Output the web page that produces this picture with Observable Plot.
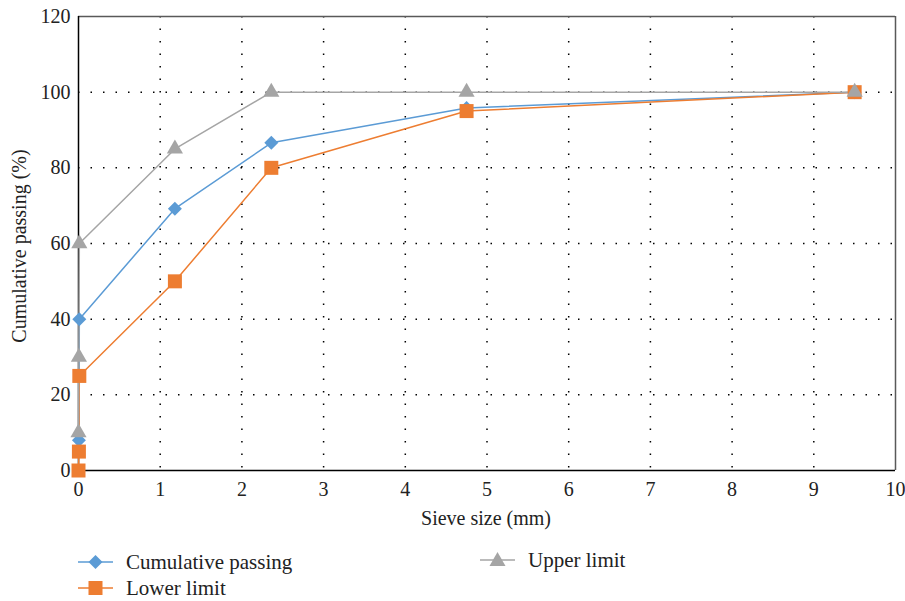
<!DOCTYPE html>
<html>
<head>
<meta charset="utf-8">
<script src="https://cdn.jsdelivr.net/npm/d3@7"></script>
<script src="https://cdn.jsdelivr.net/npm/@observablehq/plot@0.6"></script>
<style>
  body { margin: 0; background: #fff; }
  #wrap { position: relative; width: 905px; height: 601px; color: #222; }
  #wrap, #wrap * { font-family: "Liberation Serif", "Times New Roman", serif !important; }
  #chart { position: absolute; left: 0; top: 0; }
  .leg { position: absolute; display: flex; align-items: center; font-size: 21px; line-height: 24px; }
  .leg svg { margin-right: 13px; }
  #ylab { position: absolute; left: 19px; top: 246px; transform: translate(-50%, -50%) rotate(-90deg); font-size: 20px; white-space: nowrap; }
  #xlab { position: absolute; left: 486px; top: 518px; transform: translate(-50%, -50%); font-size: 20px; white-space: nowrap; }
</style>
</head>
<body>
<div id="wrap">
  <div id="chart"></div>
  <div id="ylab">Cumulative passing (%)</div>
  <div id="xlab">Sieve size (mm)</div>
  <div class="leg" style="left:78px; top:550px;">
    <svg width="35" height="24"><line x1="0" y1="12" x2="35" y2="12" stroke="#5B9BD5" stroke-width="1.5"/><path d="M17.5,5 L24.5,12 L17.5,19 L10.5,12 Z" fill="#5B9BD5"/></svg>
    <span>Cumulative passing</span>
  </div>
  <div class="leg" style="left:78px; top:576px;">
    <svg width="35" height="24"><line x1="0" y1="12" x2="35" y2="12" stroke="#ED7D31" stroke-width="1.5"/><rect x="10.5" y="5" width="14" height="14" fill="#ED7D31"/></svg>
    <span>Lower limit</span>
  </div>
  <div class="leg" style="left:480px; top:548px;">
    <svg width="35" height="24"><line x1="0" y1="12" x2="35" y2="12" stroke="#A5A5A5" stroke-width="1.5"/><path d="M17.5,4 L25.5,18 L9.5,18 Z" fill="#A5A5A5"/></svg>
    <span>Upper limit</span>
  </div>
</div>
<script>
// Data
const sieveSizes = [0, 0.005, 0.01, 1.18, 2.36, 4.75, 9.5];
const cumulativeSizes = [0.005, 0.01, 1.18, 2.36, 4.75, 9.5];
const cumulativePassing = [8, 40, 69.2, 86.6, 95.8, 100];
const lowerLimit = [0, 5, 25, 50, 80, 95, 100];
const upperLimit = [10, 30, 60, 85, 100, 100, 100];
const xTicks = [0, 1, 2, 3, 4, 5, 6, 7, 8, 9, 10];
const yTicks = [0, 20, 40, 60, 80, 100, 120];

const cum = cumulativeSizes.map((x, i) => ({x, y: cumulativePassing[i]}));
const low = sieveSizes.map((x, i) => ({x, y: lowerLimit[i]}));
const up = sieveSizes.map((x, i) => ({x, y: upperLimit[i]}));

const blue = "#5B9BD5", orange = "#ED7D31", gray = "#A5A5A5";

const chart = Plot.plot({
  width: 905,
  height: 530,
  marginLeft: 78,
  marginRight: 10,
  marginTop: 16,
  marginBottom: 60,
  style: { fontFamily: "'Liberation Serif', 'Times New Roman', serif", fontSize: "20px", color: "#222", background: "#fff" },
  x: { domain: [0, 10], label: null },
  y: { domain: [0, 120], label: null },
  marks: [
    Plot.gridX(xTicks.filter(d => d > 0 && d < 10), { stroke: "#000", strokeOpacity: 1, strokeWidth: 1.5, strokeDasharray: "1.5,11" }),
    Plot.gridY(yTicks.filter(d => d > 0 && d < 120), { stroke: "#000", strokeOpacity: 1, strokeWidth: 1.5, strokeDasharray: "1.5,11" }),
    Plot.ruleY([120], { stroke: "#595959", strokeWidth: 1.5 }),
    Plot.ruleX([10], { stroke: "#595959", strokeWidth: 1.5 }),
    Plot.ruleY([0], { stroke: "#000", strokeWidth: 1.5 }),
    Plot.ruleX([0], { stroke: "#000", strokeWidth: 1.5 }),
    Plot.axisX(xTicks, { tickSize: 0, tickPadding: 11, fontSize: 20, label: null }),
    Plot.axisY(yTicks, { tickSize: 0, tickPadding: 8, fontSize: 20, label: null }),
    Plot.line(cum, { x: "x", y: "y", stroke: blue, strokeWidth: 1.5 }),
    Plot.line(low, { x: "x", y: "y", stroke: orange, strokeWidth: 1.5 }),
    Plot.line(up, { x: "x", y: "y", stroke: gray, strokeWidth: 1.5 }),
    Plot.dot(cum, { x: "x", y: "y", symbol: "diamond2", r: 6.3, fill: blue, stroke: "none" }),
    Plot.dot(low, { x: "x", y: "y", symbol: "square", r: 7.9, fill: orange, stroke: "none" }),
    Plot.dot(up, { x: "x", y: "y", symbol: "triangle", r: 6, fill: gray, stroke: "none" })
  ]
});
document.getElementById("chart").appendChild(chart);
</script>
</body>
</html>
